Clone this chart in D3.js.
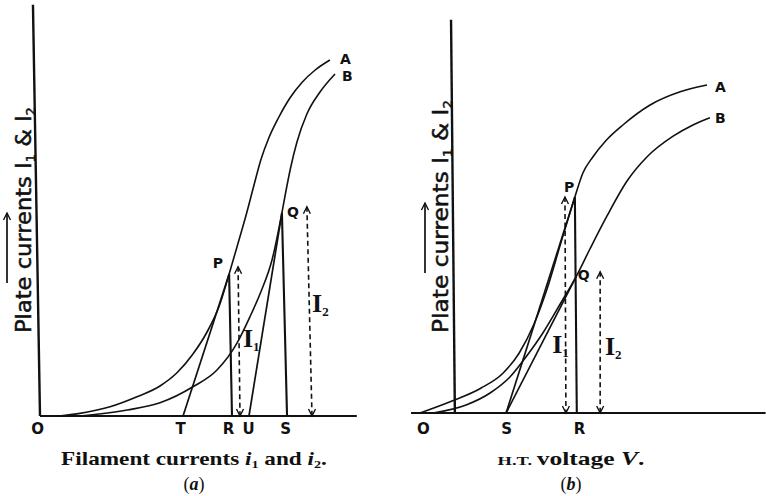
<!DOCTYPE html>
<html>
<head>
<meta charset="utf-8">
<script src="https://cdn.jsdelivr.net/npm/d3@7/dist/d3.min.js"></script>
<style>
  body { margin: 0; background: #fff; }
  svg { display: block; }
  text { fill: #111; }
</style>
</head>
<body>
<svg id="chart" width="766" height="496"></svg>
<script>
// ---- panel (a): plate currents against filament current ----
var aCurveA = [[0.6,0],[1.2,0.06],[2.19,0.23],[3.03,0.48],[3.75,0.75],[4.28,1.08],[4.78,1.55],[5.22,2.1],
               [5.6,2.75],[5.91,3.55],[6.2,4.35],[6.45,5.05],[6.68,5.75],[6.9,6.4],[7.15,6.95],[7.45,7.45],
               [7.81,7.95],[8.2,8.35],[8.6,8.65],[9.06,8.9]];
var aCurveB = [[1.25,0],[2.72,0.15],[3.75,0.33],[4.78,0.73],[5.53,1.15],[6.16,1.83],[6.56,2.48],[6.9,3.1],
               [7.25,3.9],[7.56,5.08],[7.68,5.6],[7.83,6.2],[8.03,6.85],[8.34,7.55],[8.75,8.1],[9.22,8.55]];
var aTicks = [["O",-0.09],["T",4.375],["R",5.875],["U",6.5],["S",7.66]];
var aTangents = [[[4.47,0],[5.91,3.55]], [[6.53,0],[7.56,5.08]]];
var aDrops = [[[5.91,3.55],[6.0,0]], [[7.56,5.08],[7.72,0]]];
var aArrows = [[[6.19,3.73],[6.25,0]], [[8.34,5.23],[8.5,0]]];
var aLetters = [["A",9.375,8.8],["B",9.44,8.375],["P",5.4,3.7],["Q",7.72,4.98]];
var aCurrents = [["1",6.34,1.73],["2",8.5,2.6]];

// ---- panel (b): plate currents against H.T. voltage ----
var bCurveA = [[0,0],[1.0,0.3],[1.9,0.62],[2.6,1.0],[3.1,1.5],[3.55,2.2],[3.97,3.1],[4.4,4.25],[4.84,5.4],
               [5.09,6.0],[5.4,6.4],[5.8,6.8],[6.34,7.2],[7.19,7.7],[8.13,8.03],[8.97,8.2]];
var bCurveB = [[0.41,0],[1.44,0.2],[2.19,0.5],[2.81,0.9],[3.31,1.4],[3.84,2.0],[4.4,2.75],[4.88,3.41],
               [5.31,4.1],[5.84,4.92],[6.47,5.8],[7.09,6.4],[7.91,6.92],[8.53,7.2],[9.06,7.38]];
var bTicks = [["O",0.09],["S",2.69],["R",4.97]];
var bTangents = [[[2.69,0],[4.84,5.4]], [[2.69,0],[4.88,3.41]]];
var bDrops = [[[4.84,5.4],[4.9,0]]];
var bArrows = [[[4.53,5.4],[4.56,0]], [[5.63,3.53],[5.63,0]]];
var bLetters = [["A",9.22,8.03],["B",9.22,7.25],["P",4.5,5.53],["Q",4.93,3.33]];
var bCurrents = [["1",4.13,1.5],["2",5.78,1.45]];

var svg = d3.select("#chart");
var sans = "DejaVu Sans, sans-serif";
var serif = "Liberation Serif, Times New Roman, serif";

// squeeze a text element to a given length
function squeeze(t, len) {
  return len / t.node().getComputedTextLength();
}

function chevron(g, px, py, dir) {
  // dir -1 = points up, 1 = points down
  g.append("path")
    .attr("d", "M" + (px - 3.5) + "," + (py - dir * 7) + "L" + px + "," + py + "L" + (px + 3.5) + "," + (py - dir * 7))
    .attr("fill", "none").attr("stroke", "#111").attr("stroke-width", 1.4);
}

function drawPanel(p) {
  var g = svg.append("g");
  var x = d3.scaleLinear().domain([0, 10]).range(p.xRange);
  var y = d3.scaleLinear().domain([0, 10]).range(p.yRange);
  var line = d3.line().x(function(d) { return x(d[0]); }).y(function(d) { return y(d[1]); });
  var smooth = d3.line().x(function(d) { return x(d[0]); }).y(function(d) { return y(d[1]); })
    .curve(d3.curveMonotoneX);

  // axes
  g.append("path").attr("d", line(p.yAxis))
    .attr("stroke", "#111").attr("stroke-width", 2.4).attr("fill", "none");
  g.append("path").attr("d", line([[p.xExtent[0], 0], [p.xExtent[1], 0]]))
    .attr("stroke", "#111").attr("stroke-width", 2.2).attr("fill", "none");

  var ax = g.append("g").attr("transform", "translate(0," + y(0) + ")")
    .call(d3.axisBottom(x)
      .tickValues(p.ticks.map(function(d) { return d[1]; }))
      .tickFormat(function(d, i) { return p.ticks[i][0]; })
      .tickSize(0).tickPadding(p.tickPad));
  ax.select(".domain").remove();
  ax.selectAll("text").attr("font-family", sans).attr("font-size", 15).attr("font-weight", "bold").attr("fill", "#111");

  // characteristic curves
  [p.curveA, p.curveB].forEach(function(c) {
    g.append("path").attr("d", smooth(c))
      .attr("stroke", "#111").attr("stroke-width", 1.6).attr("fill", "none");
  });

  // tangents and drops
  p.tangents.forEach(function(s) {
    g.append("path").attr("d", line(s)).attr("stroke", "#111").attr("stroke-width", 1.7).attr("fill", "none");
  });
  p.drops.forEach(function(s) {
    g.append("path").attr("d", line(s)).attr("stroke", "#111").attr("stroke-width", 2.1).attr("fill", "none");
  });

  // dashed current arrows
  p.arrows.forEach(function(s) {
    g.append("path").attr("d", line(s))
      .attr("stroke", "#111").attr("stroke-width", 1.6).attr("stroke-dasharray", "5,3.5").attr("fill", "none");
    chevron(g, x(s[0][0]), y(s[0][1]), -1);
    chevron(g, x(s[1][0]), y(s[1][1]), 1);
  });

  // letters on the figure
  g.selectAll(".lbl").data(p.letters).enter().append("text")
    .attr("x", function(d) { return x(d[1]); })
    .attr("y", function(d) { return y(d[2]); })
    .attr("font-family", sans).attr("font-size", 14).attr("font-weight", "bold")
    .text(function(d) { return d[0]; });

  p.currents.forEach(function(d) {
    var t = g.append("text").attr("x", x(d[1])).attr("y", y(d[2]))
      .attr("font-family", serif).attr("font-weight", "bold").attr("font-size", 26);
    t.append("tspan").text("I");
    t.append("tspan").attr("font-size", 13).attr("dy", 4).text(d[0]);
  });

  // vertical axis title
  var yl = g.append("text").attr("font-family", sans).attr("font-size", 21)
    .attr("stroke", "#111").attr("stroke-width", 0.5);
  yl.append("tspan").text("Plate currents I");
  yl.append("tspan").attr("font-size", 12).attr("dy", 4).text("1");
  yl.append("tspan").attr("dy", -4).text(" & I");
  yl.append("tspan").attr("font-size", 12).attr("dy", 4).text("2");
  var s = squeeze(yl, p.titleLen);
  yl.attr("transform", "translate(" + p.titlePos[0] + "," + p.titlePos[1] + ") rotate(-90) scale(" + s + ",1)");

  // little arrow over "currents"
  g.append("path").attr("d", "M" + p.upArrow[0] + "," + p.upArrow[1] + "V" + p.upArrow[2])
    .attr("stroke", "#111").attr("stroke-width", 1.7);
  chevron(g, p.upArrow[0], p.upArrow[2], -1);

  // caption
  var cap = g.append("text").attr("font-family", serif).attr("text-anchor", "middle");
  p.caption(cap);
  var cs = squeeze(cap, p.capLen);
  cap.attr("transform", "translate(" + p.capPos[0] + "," + p.capPos[1] + ") scale(" + cs + ",1)");

  var tag = g.append("text").attr("font-family", serif).attr("font-size", 18).attr("text-anchor", "middle")
    .attr("x", p.capPos[0]).attr("y", p.capPos[1] + 25);
  tag.append("tspan").text("(");
  tag.append("tspan").attr("font-style", "italic").attr("font-weight", "bold").text(p.tag);
  tag.append("tspan").text(")");
}

drawPanel({
  xRange: [40, 360], yRange: [416, 16],
  yAxis: [[-0.22, 10.28], [0, 0]], xExtent: [0, 9.9], tickPad: 7,
  curveA: aCurveA, curveB: aCurveB, ticks: aTicks,
  tangents: aTangents, drops: aDrops, arrows: aArrows,
  letters: aLetters, currents: aCurrents,
  titlePos: [31, 333], titleLen: 226, upArrow: [7, 283, 213],
  capPos: [194, 465], capLen: 266, tag: "a",
  caption: function(t) {
    t.attr("font-weight", "bold").attr("font-size", 18);
    t.append("tspan").text("Filament currents ");
    t.append("tspan").attr("font-style", "italic").text("i");
    t.append("tspan").attr("font-size", 11).attr("dy", 3).text("1");
    t.append("tspan").attr("dy", -3).text(" and ");
    t.append("tspan").attr("font-style", "italic").text("i");
    t.append("tspan").attr("font-size", 11).attr("dy", 3).text("2");
    t.append("tspan").attr("dy", -3).text(".");
  }
});

drawPanel({
  xRange: [420, 740], yRange: [413, 13],
  yAxis: [[0.97, 9.83], [1.09, 0]], xExtent: [-0.28, 10.8], tickPad: 10,
  curveA: bCurveA, curveB: bCurveB, ticks: bTicks,
  tangents: bTangents, drops: bDrops, arrows: bArrows,
  letters: bLetters, currents: bCurrents,
  titlePos: [448, 333], titleLen: 233, upArrow: [425, 273, 203],
  capPos: [571, 465], capLen: 147, tag: "b",
  caption: function(t) {
    t.attr("font-size", 18).attr("font-weight", 600);
    t.append("tspan").attr("font-size", 13).text("H.T. ");
    t.append("tspan").text("voltage ");
    t.append("tspan").attr("font-style", "italic").text("V");
    t.append("tspan").text(".");
  }
});
</script>
</body>
</html>
